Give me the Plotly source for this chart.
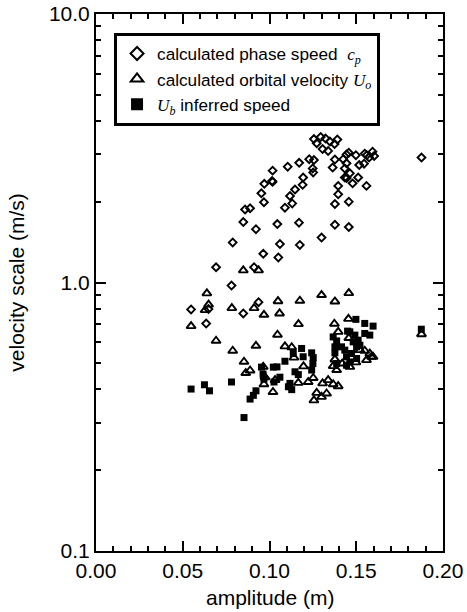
import plotly.graph_objects as go

# ---- data ----
phase_amp = [0.1256, 0.1295, 0.1323, 0.1348, 0.1391, 0.1272, 0.1375, 0.1306, 0.1338,
             0.1444, 0.1457, 0.1498, 0.1549, 0.1594, 0.1574, 0.1603, 0.1561, 0.1377,
             0.1425, 0.1444, 0.1434, 0.1364, 0.1517, 0.1545, 0.1463, 0.1434, 0.1511,
             0.1479, 0.1559, 0.1396, 0.1396, 0.1377, 0.1457, 0.1377, 0.1457, 0.1445,
             0.1876, 0.1229, 0.1256, 0.1171, 0.1105, 0.1018, 0.1018, 0.1015, 0.1249,
             0.1252, 0.1194, 0.1191, 0.1147, 0.1118, 0.1131, 0.1089, 0.1045, 0.1170,
             0.1060, 0.1175, 0.1300, 0.1051, 0.0970, 0.0953, 0.0968, 0.0888, 0.0859,
             0.0849, 0.0922, 0.0788, 0.0964, 0.0692, 0.0911, 0.0781, 0.0937, 0.0548,
             0.0648, 0.0849, 0.0635]
phase_speed = [3.42, 3.48, 3.44, 3.35, 3.41, 3.30, 3.28, 3.14, 3.09,
               3.00, 3.04, 2.98, 3.02, 3.07, 2.92, 2.96, 2.98, 2.87,
               2.88, 2.78, 2.66, 2.68, 2.74, 2.77, 2.55, 2.46, 2.46,
               2.34, 2.29, 2.29, 2.13, 1.96, 2.00, 1.64, 1.61, 2.45,
               2.92, 2.88, 2.86, 2.79, 2.70, 2.61, 2.37, 2.39, 2.66,
               2.57, 2.46, 2.31, 2.22, 2.10, 1.97, 1.90, 1.65, 1.67,
               1.39, 1.38, 1.47, 1.24, 2.33, 2.15, 1.99, 1.89, 1.87,
               1.68, 1.58, 1.41, 1.28, 1.14, 1.14, 0.974, 0.845, 0.794,
               0.796, 0.767, 0.703]

orbital_amp = [0.0849, 0.0937, 0.0639, 0.0649, 0.0629, 0.0783, 0.0911, 0.0968, 0.1049,
               0.1058, 0.0548, 0.0692, 0.0788, 0.0922, 0.1046, 0.1167, 0.1175, 0.1300,
               0.1377, 0.1457, 0.1374, 0.1455, 0.1396, 0.1089, 0.1128, 0.1141, 0.0853,
               0.0863, 0.0888, 0.0964, 0.0974, 0.0968, 0.1020, 0.1032, 0.1196, 0.1166,
               0.1223, 0.1252, 0.1306, 0.1338, 0.1367, 0.1396, 0.1272, 0.1300, 0.1329,
               0.1256, 0.1377, 0.1367, 0.1419, 0.1498, 0.1549, 0.1578, 0.1597, 0.1559,
               0.1588, 0.1521, 0.1457, 0.1876, 0.1463, 0.1387]
orbital_vel = [1.11, 1.11, 0.911, 0.827, 0.789, 0.803, 0.803, 0.758, 0.852,
               0.767, 0.688, 0.607, 0.557, 0.581, 0.639, 0.700, 0.855, 0.898,
               0.850, 0.913, 0.702, 0.732, 0.655, 0.578, 0.574, 0.525, 0.507,
               0.460, 0.470, 0.485, 0.444, 0.418, 0.391, 0.433, 0.487, 0.423,
               0.426, 0.441, 0.421, 0.433, 0.418, 0.411, 0.388, 0.375, 0.386,
               0.364, 0.517, 0.488, 0.499, 0.504, 0.557, 0.544, 0.529, 0.514,
               0.529, 0.560, 0.621, 0.642, 0.485, 0.472]

inferred_amp = [0.0548, 0.0625, 0.0654, 0.0781, 0.0853, 0.0888, 0.0907, 0.0922, 0.0954,
                0.0963, 0.0968, 0.1022, 0.1043, 0.1060, 0.1026, 0.1089, 0.1137, 0.1185,
                0.1194, 0.1147, 0.1166, 0.1118, 0.1109, 0.1128, 0.1243, 0.1252, 0.1250,
                0.1243, 0.1367, 0.1377, 0.1377, 0.1463, 0.1492, 0.1511, 0.1521, 0.1434,
                0.1473, 0.1444, 0.1463, 0.1444, 0.1502, 0.1578, 0.1498, 0.1549, 0.1597,
                0.1450, 0.1549, 0.1415, 0.1387, 0.1502, 0.1482, 0.1875, 0.1387]
inferred_speed = [0.401, 0.416, 0.395, 0.426, 0.314, 0.368, 0.380, 0.395, 0.484,
                  0.456, 0.436, 0.484, 0.485, 0.444, 0.426, 0.509, 0.544, 0.568,
                  0.529, 0.465, 0.454, 0.421, 0.409, 0.399, 0.547, 0.525, 0.499,
                  0.472, 0.627, 0.576, 0.547, 0.655, 0.637, 0.610, 0.584, 0.560,
                  0.544, 0.529, 0.506, 0.492, 0.521, 0.637, 0.729, 0.704, 0.688,
                  0.659, 0.646, 0.576, 0.499, 0.576, 0.601, 0.670, 0.606]

x_ticks = [0.0, 0.05, 0.10, 0.15, 0.20]
y_ticks = [0.1, 1.0, 10.0]
y_minor = [m * d for d in (0.1, 1.0) for m in range(2, 10)]

FONT = "Liberation Sans, Arial, Helvetica, sans-serif"
SERIF = "Liberation Serif, Times New Roman, serif"

fig = go.Figure()

fig.add_trace(go.Scatter(
    x=phase_amp, y=phase_speed, mode="markers", showlegend=False,
    marker=dict(symbol="diamond-open", size=6, color="black", line=dict(width=1.9, color="black"))))
fig.add_trace(go.Scatter(
    x=orbital_amp, y=orbital_vel, mode="markers", showlegend=False,
    marker=dict(symbol="triangle-up-open", size=8, color="black", line=dict(width=1.9, color="black"))))
fig.add_trace(go.Scatter(
    x=inferred_amp, y=inferred_speed, mode="markers", showlegend=False,
    marker=dict(symbol="square", size=7, color="black", line=dict(width=0))))

# legend entries (larger symbols, as in the reference)
legend_names = [
    "calculated phase speed  <span style=\"font-family:%s\"><i>c</i><sub><i>p</i></sub></span>" % SERIF,
    "calculated orbital velocity <span style=\"font-family:%s\"><i>U</i><sub><i>o</i></sub></span>" % SERIF,
    "<span style=\"font-family:%s\"><i>U</i><sub><i>b</i></sub></span> inferred speed" % SERIF,
]
legend_symbols = ["diamond-open", "triangle-up-open", "square"]
legend_sizes = [10, 11, 10]
for i, (nm, sym, sz) in enumerate(zip(legend_names, legend_symbols, legend_sizes)):
    fig.add_trace(go.Scatter(
        x=[None], y=[None], mode="markers", name=nm, legendgroup=str(i),
        marker=dict(symbol=sym, size=sz, color="black", line=dict(width=2, color="black"))))

fig.update_layout(
    width=467, height=612,
    margin=dict(l=96, r=24, t=14, b=61, autoexpand=False),
    paper_bgcolor="white", plot_bgcolor="white",
    font=dict(family=FONT, color="black", size=21),
    legend=dict(
        x=0.052, y=0.965, xanchor="left", yanchor="top",
        bordercolor="black", borderwidth=3, bgcolor="white",
        font=dict(family=FONT, size=17.2, color="black"),
        tracegroupgap=0, itemwidth=30,
    ),
    xaxis=dict(
        range=[0, 0.2], tickvals=x_ticks, tickformat=".2f", automargin=False,
        ticklabeloverflow="allow",
        ticks="inside", ticklen=10, tickwidth=1.5, tickcolor="black",
        showline=True, linewidth=2, linecolor="black", mirror="ticks",
        showgrid=False, zeroline=False,
        minor=dict(ticks="inside", dtick=0.01, ticklen=5, tickwidth=1.5, tickcolor="black", showgrid=False),
        tickfont=dict(size=21),
    ),
    yaxis=dict(
        type="log", range=[-1, 1], tickvals=y_ticks, tickformat=".1f", automargin=False,
        ticklabeloverflow="allow",
        ticks="inside", ticklen=10, tickwidth=1.5, tickcolor="black",
        showline=True, linewidth=2, linecolor="black", mirror="ticks",
        showgrid=False, zeroline=False,
        minor=dict(ticks="inside", tickvals=y_minor, ticklen=5, tickwidth=1.5, tickcolor="black", showgrid=False),
        tickfont=dict(size=21),
    ),
    annotations=[
        dict(text="amplitude (m)", xref="paper", yref="paper", x=0.5, y=-0.0875,
             xanchor="center", yanchor="middle", showarrow=False, font=dict(size=21)),
        dict(text="velocity scale (m/s)", xref="paper", yref="paper", x=-0.23, y=0.5,
             xanchor="center", yanchor="middle", textangle=-90, showarrow=False, font=dict(size=21)),
    ],
)

# remove the default 8px body margin so the figure fills the window exactly
fig.write_html("out.html", config={"displayModeBar": False},
               post_script="document.body.style.margin='0';document.body.style.overflow='hidden';")
